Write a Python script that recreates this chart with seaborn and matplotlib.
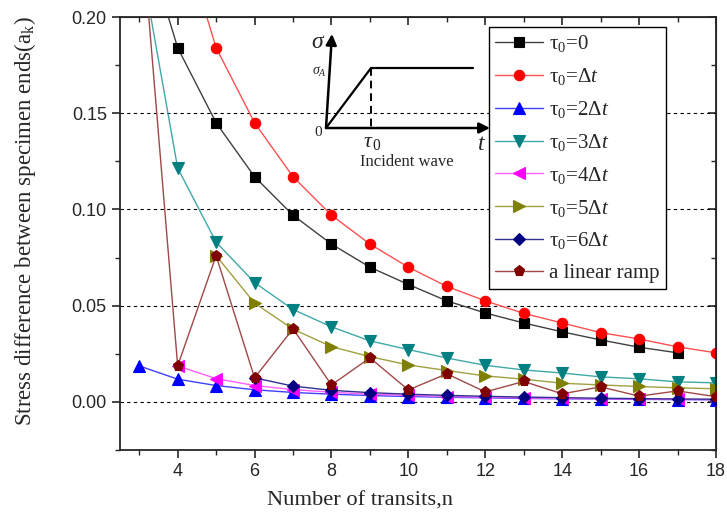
import matplotlib
matplotlib.use('Agg')
import matplotlib.pyplot as plt
import seaborn as sns
import pandas as pd
from matplotlib.ticker import MultipleLocator

# ---------------- data ----------------
n_tau0_0 = [3, 4, 5, 6, 7, 8, 9, 10, 11, 12, 13, 14, 15, 16, 17]
tau0_0 = [0.25, 0.184, 0.145, 0.117, 0.097, 0.082, 0.070, 0.061, 0.0525,
          0.0462, 0.041, 0.0364, 0.0322, 0.0284, 0.0255]

n_tau0_1 = [4, 5, 6, 7, 8, 9, 10, 11, 12, 13, 14, 15, 16, 17, 18]
tau0_1 = [0.25, 0.184, 0.145, 0.117, 0.097, 0.082, 0.070, 0.060, 0.0525,
          0.046, 0.041, 0.036, 0.0327, 0.0286, 0.0255]

n_tau0_2 = [3, 4, 5, 6, 7, 8, 9, 10, 11, 12, 13, 14, 15, 16, 17, 18]
tau0_2 = [0.0187, 0.0118, 0.0085, 0.0063, 0.0049, 0.0040, 0.0033, 0.0028,
          0.0024, 0.0021, 0.0018, 0.0016, 0.0015, 0.0013, 0.0012, 0.0011]

n_tau0_3 = [3, 4, 5, 6, 7, 8, 9, 10, 11, 12, 13, 14, 15, 16, 17, 18]
tau0_3 = [0.234, 0.1215, 0.083, 0.062, 0.048, 0.039, 0.0317, 0.0272,
          0.0228, 0.019, 0.0166, 0.015, 0.013, 0.012, 0.0104, 0.0099]

n_tau0_4 = [4, 5, 6, 7, 8, 9, 10, 11, 12, 13, 14, 15, 16, 17, 18]
tau0_4 = [0.0187, 0.0121, 0.0085, 0.0064, 0.0050, 0.0040, 0.0034, 0.0028,
          0.0024, 0.0021, 0.0018, 0.0016, 0.0015, 0.0013, 0.0012]

n_tau0_5 = [5, 6, 7, 8, 9, 10, 11, 12, 13, 14, 15, 16, 17, 18]
tau0_5 = [0.076, 0.0513, 0.0378, 0.0287, 0.0235, 0.0192, 0.0163, 0.0135,
          0.0118, 0.0097, 0.0088, 0.0080, 0.0073, 0.0068]

n_tau0_6 = [6, 7, 8, 9, 10, 11, 12, 13, 14, 15, 16, 17, 18]
tau0_6 = [0.0125, 0.0082, 0.0060, 0.0048, 0.0040, 0.0034, 0.0029, 0.0025,
          0.0022, 0.0019, 0.0017, 0.0015, 0.0014]

n_ramp = [3, 4, 5, 6, 7, 8, 9, 10, 11, 12, 13, 14, 15, 16, 17, 18]
ramp = [0.26, 0.0187, 0.076, 0.0125, 0.038, 0.0088, 0.0229, 0.0062,
        0.0146, 0.0052, 0.0106, 0.0042, 0.0078, 0.0030, 0.0057, 0.0027]

labels = [r'$\mathrm{\tau}_0$=0', r'$\mathrm{\tau}_0$=Δ$t$', r'$\mathrm{\tau}_0$=2Δ$t$',
          r'$\mathrm{\tau}_0$=3Δ$t$', r'$\mathrm{\tau}_0$=4Δ$t$', r'$\mathrm{\tau}_0$=5Δ$t$',
          r'$\mathrm{\tau}_0$=6Δ$t$', 'a linear ramp']

series = [(n_tau0_0, tau0_0), (n_tau0_1, tau0_1), (n_tau0_2, tau0_2), (n_tau0_3, tau0_3),
          (n_tau0_4, tau0_4), (n_tau0_5, tau0_5), (n_tau0_6, tau0_6), (n_ramp, ramp)]

marker_colors = ['#000000', '#ff0000', '#0000ff', '#008080', '#ff00ff', '#808000', '#000080', '#800000']
line_colors = ['#404040', '#ff5050', '#4040ff', '#40a8a8', '#ff60ff', '#a0a040', '#303090', '#a04848']
markers = ['s', 'o', '^', 'v', '<', '>', 'D', 'p']
msizes = [7, 7.5, 8, 8, 8, 8, 6.5, 8]

# ---------------- style ----------------
sns.set_style('ticks')
plt.rcParams['font.family'] = ['Liberation Serif', 'DejaVu Serif']
plt.rcParams['mathtext.fontset'] = 'custom'
plt.rcParams['mathtext.rm'] = 'Liberation Serif'
plt.rcParams['mathtext.it'] = 'Liberation Serif:italic'
plt.rcParams['mathtext.bf'] = 'Liberation Serif:bold'

W, H = 727, 521
fig = plt.figure(figsize=(W / 100, H / 100), dpi=100)
ax = fig.add_axes([120 / W, 1 - 450 / H, (716 - 120) / W, (450 - 17) / H])

for gy in [0.0, 0.05, 0.10, 0.15]:
    ax.axhline(gy, color='black', lw=0.8, ls=(0, (3, 3)), zorder=0.5)

for i, ((xs, ys), lab) in enumerate(zip(series, labels)):
    df = pd.DataFrame({'n': xs, 'a': ys})
    sns.lineplot(data=df, x='n', y='a', ax=ax, color=line_colors[i], lw=1.0,
                 marker=markers[i], markersize=msizes[i],
                 markerfacecolor=marker_colors[i], markeredgecolor=marker_colors[i],
                 markeredgewidth=0.8, label=lab, zorder=2 + i * 0.1)

ax.set_xlim(2.5, 18)
ax.set_ylim(-0.025, 0.20)
ax.xaxis.set_major_locator(MultipleLocator(2))
ax.xaxis.set_minor_locator(MultipleLocator(1))
ax.yaxis.set_major_locator(MultipleLocator(0.05))
ax.yaxis.set_minor_locator(MultipleLocator(0.025))
ax.yaxis.set_major_formatter(matplotlib.ticker.FormatStrFormatter('%.2f'))
ax.tick_params(which='major', direction='out', length=6, width=1.2, labelsize=13)
ax.tick_params(which='minor', direction='out', length=3.5, width=1.0)
for lab in ax.get_xticklabels() + ax.get_yticklabels():
    lab.set_fontfamily('Liberation Sans')
for sp in ax.spines.values():
    sp.set_linewidth(1.3)
    sp.set_visible(True)

# mirrored inward ticks on top/right
top = ax.secondary_xaxis('top')
top.xaxis.set_major_locator(MultipleLocator(2))
top.xaxis.set_minor_locator(MultipleLocator(1))
top.tick_params(which='major', direction='in', length=6, width=1.2, labeltop=False)
top.tick_params(which='minor', direction='in', length=3.5, width=1.0)
right = ax.secondary_yaxis('right')
right.yaxis.set_major_locator(MultipleLocator(0.05))
right.yaxis.set_minor_locator(MultipleLocator(0.025))
right.tick_params(which='major', direction='in', length=6, width=1.2, labelright=False)
right.tick_params(which='minor', direction='in', length=3.5, width=1.0)

ax.set_xlabel('Number of transits,n', fontsize=16.2)
ax.xaxis.set_label_coords(0.403, -0.097)
ax.set_ylabel(r'Stress difference between specimen ends(a$_\mathrm{k}$)', fontsize=16.5)
ax.yaxis.set_label_coords(-0.138, 0.529)

handles, labs = ax.get_legend_handles_labels()
leg = ax.legend(handles, labs, loc='upper right', bbox_to_anchor=(0.916, 0.977),
                fontsize=15, frameon=True, fancybox=False, handlelength=2.3,
                labelspacing=0.57, borderpad=0.3, handletextpad=0.3, borderaxespad=0)
leg.get_frame().set_edgecolor('black')
leg.get_frame().set_linewidth(1.0)
leg.get_frame().set_alpha(1)

# ---------------- inset schematic (incident wave) ----------------
ins = fig.add_axes([300 / W, 1 - 175 / H, 200 / W, 160 / H])
ins.set_xlim(300, 500)
ins.set_ylim(175, 15)
ins.axis('off')
ins.patch.set_alpha(0)
arr = dict(arrowstyle='-|>', lw=1.8, color='black', mutation_scale=16, shrinkA=0, shrinkB=0)
ins.annotate('', xy=(332, 34), xytext=(326, 128), arrowprops=arr)
ins.annotate('', xy=(490, 128), xytext=(326, 128), arrowprops=arr)
sns.lineplot(x=[326, 371, 473], y=[128, 68, 68], ax=ins, color='black', lw=1.6)
ins.plot([371, 371], [68, 128], color='black', lw=1.4, ls=(0, (4, 2.5)))
ins.text(318, 42, r'$\sigma$', fontsize=17, ha='center', va='center')
ins.text(319, 72, r'$\sigma_{A}$', fontsize=10, ha='center', va='center')
ins.text(318, 132, '0', fontsize=11, ha='center', va='center')
ins.text(372, 143, r'$\tau_{\,0}$', fontsize=16, ha='center', va='center')
ins.text(482, 144, r'$t$', fontsize=17, ha='center', va='center')
ins.text(407, 162, 'Incident wave', fontsize=12, ha='center', va='center')

fig.savefig('out.png', dpi=100)
